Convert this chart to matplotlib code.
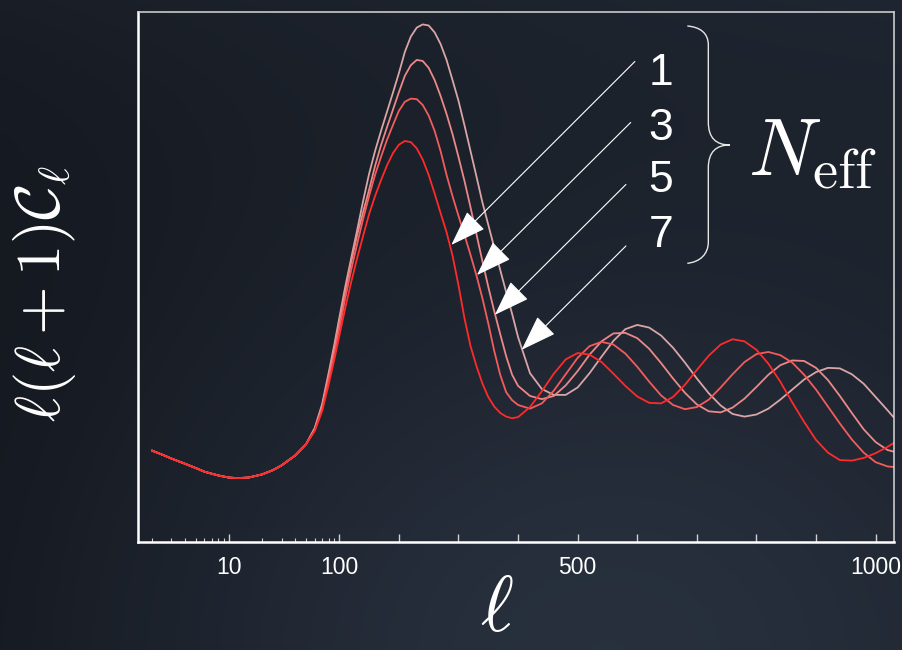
import numpy as np
import matplotlib.pyplot as plt
from matplotlib.path import Path
from matplotlib.patches import PathPatch

plt.rcParams['mathtext.fontset'] = 'cm'
plt.rcParams['font.family'] = ['Liberation Sans', 'DejaVu Sans']

# multipoles shared by all four spectra
ell = [2, 2.5, 3, 4, 5, 6, 8, 10, 12, 15, 20, 25, 30, 40, 50,
       60, 70, 80, 90,
       100, 110, 120, 130, 140, 150, 160, 170, 180, 190,
       200, 210, 220, 230, 240, 250, 260, 270, 280, 290,
       300, 310, 320, 330, 340, 350, 360, 370, 380, 390,
       400, 420, 440, 460, 480, 500, 520, 540, 560, 580,
       600, 620, 640, 660, 680, 700, 720, 740, 760, 780,
       800, 820, 840, 860, 880, 900, 920, 940, 960, 980,
       1000, 1020, 1030]

# low-l plateau, same for every N_eff (arbitrary units)
dl_low = [17.2, 16.4, 15.7, 14.7, 13.9, 13.2, 12.5, 12.1, 12.0, 12.1,
          12.7, 13.5, 14.4, 16.3, 18.4]

dl_n1 = [20.9, 24.7, 29.6, 34.3,
         38.8, 44.1, 49.0, 53.5, 57.7, 61.8, 65.2, 68.2, 71.0, 73.3,
         74.9, 75.6, 75.4, 74.2, 72.1, 69.2, 65.7, 62.0, 58.4, 54.0,
         48.4, 42.2, 37.0, 33.2, 29.9, 27.3, 25.5, 24.3, 23.6, 23.3,
         23.5, 25.4, 28.4, 31.7, 34.4, 35.6, 35.3, 33.9, 31.7, 29.4,
         27.4, 26.2, 26.1, 27.3, 29.6, 32.4, 35.1, 37.2, 38.2, 37.8,
         36.2, 33.6, 30.2, 26.3, 22.6, 19.2, 16.8, 15.4, 15.3, 15.8,
         16.7, 17.9, 18.6]

dl_n3 = [21.1, 25.0, 30.5, 35.2,
         40.1, 46.0, 51.3, 56.2, 60.9, 65.2, 69.2, 72.6, 75.8, 78.6,
         81.3, 83.0, 83.6, 83.5, 82.4, 80.4, 77.5, 73.7, 69.2, 65.2,
         61.5, 57.9, 54.2, 50.3, 46.0, 41.2, 36.0, 31.5, 28.2, 26.7,
         25.8, 25.1, 26.1, 28.5, 31.6, 34.7, 36.9, 37.7, 37.2, 35.5,
         33.0, 30.2, 27.6, 25.8, 25.0, 25.4, 26.8, 29.1, 31.6, 33.9,
         35.4, 35.8, 35.2, 33.8, 31.5, 28.7, 25.5, 22.3, 19.3, 16.8,
         15.0, 14.2, 14.1]

dl_n5 = [21.3, 25.6, 31.3, 36.4,
         41.5, 47.3, 52.8, 57.9, 62.2, 66.4, 70.9, 74.8, 78.2, 81.5,
         84.8, 87.9, 89.9, 90.9, 90.7, 89.4, 87.1, 84.1, 80.7, 76.9,
         72.6, 68.1, 63.2, 58.1, 53.0, 48.1, 43.5, 39.2, 35.0, 31.5,
         29.4, 27.5, 26.9, 27.5, 29.5, 32.2, 35.3, 37.8, 39.3, 39.4,
         38.4, 36.4, 33.7, 30.8, 28.1, 25.9, 24.6, 24.4, 25.3, 27.0,
         29.2, 31.5, 33.3, 34.2, 34.1, 32.8, 30.5, 27.5, 24.3, 21.2,
         18.8, 17.3, 17.0]

dl_n7 = [21.5, 26.0, 31.8, 37.1,
         42.2, 48.1, 53.5, 58.8, 64.3, 69.4, 73.7, 77.5, 81.1, 84.7,
         88.4, 92.4, 95.3, 97.0, 97.6, 97.4, 96.1, 93.9, 90.9, 87.1,
         83.2, 78.6, 73.8, 69.0, 64.1, 59.8, 55.5, 51.3, 47.1, 43.0,
         38.6, 31.8, 28.8, 27.7, 27.7, 29.1, 31.8, 34.9, 37.9, 40.1,
         40.9, 40.4, 38.9, 36.6, 33.8, 30.8, 28.0, 25.7, 24.1, 23.6,
         24.0, 25.1, 26.8, 28.7, 30.6, 32.0, 32.8, 32.7, 31.6, 29.8,
         27.3, 24.8, 23.5]

neff_labels = ['1', '3', '5', '7']
curves = [dl_n1, dl_n3, dl_n5, dl_n7]
colors = ['#ff2a2a', '#f45c5c', '#ec8888', '#d8a6a6']

# arrow tips sit on each curve, tails start next to the labels
arrow_tip = [(288, 56.0), (331, 50.3), (361, 42.8), (406, 36.2)]
arrow_tail = [(596, 90.6), (589, 79.1), (581, 67.4), (581, 55.8)]
label_pos = [(640, 86.2), (640, 75.8), (640, 66.0), (640, 55.6)]

major_ticks = [10, 100, 200, 300, 400, 500, 600, 700, 800, 900, 1000]
major_labels = ['10', '100', '', '', '', '500', '', '', '', '', '1000']
minor_ticks = [2, 3, 4, 5, 6, 7, 8, 9, 20, 30, 40, 50, 60, 70, 80, 90]

# log below l=100, linear above
K = 0.005402


def fwd(x):
    x = np.asarray(x, dtype=float)
    return np.where(x <= 100, np.log10(np.maximum(x, 1e-6)), 2 + (x - 100) * K)


def inv(u):
    u = np.asarray(u, dtype=float)
    return np.where(u <= 2, 10 ** np.minimum(u, 2), 100 + (u - 2) / K)


fig = plt.figure(figsize=(9.03, 6.5), dpi=100)

# dark slide background
bg = fig.add_axes([0, 0, 1, 1], zorder=-10)
yy, xx = np.mgrid[0:650, 0:903]
glow = np.exp(-(((xx - 560) / 520.0) ** 2 + ((yy - 660) / 430.0) ** 2))
f = 0.65 * glow + 0.2 * (xx / 903.0) + 0.25 * (1 - yy / 650.0) ** 3
f = np.clip(f, 0, 1)
dark = np.array([17, 20, 26]) / 255.0
light = np.array([46, 56, 72]) / 255.0
img = dark[None, None, :] + (light - dark)[None, None, :] * f[:, :, None]
bg.imshow(img, extent=[0, 1, 0, 1], aspect='auto', origin='upper')
bg.axis('off')

ax = fig.add_axes([0.15316, 0.16662, 0.83632, 0.81538])
ax.patch.set_alpha(0)
ax.set_xscale('function', functions=(fwd, inv))

for dl, c in zip(curves[::-1], colors[::-1]):
    ax.plot(ell, dl_low + dl, color=c, lw=1.3, solid_capstyle='round')

ax.set_xlim(1.507, 1030)
ax.set_ylim(0, 100)

ax.set_xticks(major_ticks)
ax.set_xticklabels(major_labels)
ax.set_xticks(minor_ticks, minor=True)
ax.xaxis.set_minor_formatter(plt.NullFormatter())
ax.set_yticks([])
ax.tick_params(axis='x', which='major', direction='in', length=6, width=1,
               color='#d0d0d0', labelcolor='white', labelsize=16.5, pad=10.5)
ax.tick_params(axis='x', which='minor', direction='in', length=3, width=0.8,
               color='#d0d0d0')

for side in ['left', 'bottom']:
    ax.spines[side].set_color('white')
    ax.spines[side].set_linewidth(1.8)
for side in ['top', 'right']:
    ax.spines[side].set_color('#d8d8d8')
    ax.spines[side].set_linewidth(1.1)

for tip, tail in zip(arrow_tip, arrow_tail):
    ax.annotate('', xy=tip, xytext=tail,
                arrowprops=dict(arrowstyle='-|>,head_length=1.15,head_width=0.4',
                                mutation_scale=20, color='white', lw=0.8,
                                shrinkA=0, shrinkB=0))

for lab, (lx, ly) in zip(neff_labels, label_pos):
    ax.text(lx, ly, lab, ha='center', va='baseline', fontsize=32, color='white')

# curly brace grouping the labels
verts = [(0.7270, 0.9730), (0.7438, 0.9711), (0.7548, 0.9598), (0.7548, 0.9372),
         (0.7548, 0.7919),
         (0.7548, 0.7617), (0.7650, 0.7485), (0.7835, 0.7485),
         (0.7650, 0.7485), (0.7548, 0.7353), (0.7548, 0.7051),
         (0.7548, 0.5655),
         (0.7548, 0.5428), (0.7438, 0.5277), (0.7270, 0.5253)]
codes = [Path.MOVETO, Path.CURVE4, Path.CURVE4, Path.CURVE4,
         Path.LINETO,
         Path.CURVE4, Path.CURVE4, Path.CURVE4,
         Path.CURVE4, Path.CURVE4, Path.CURVE4,
         Path.LINETO,
         Path.CURVE4, Path.CURVE4, Path.CURVE4]
ax.add_patch(PathPatch(Path(verts, codes), transform=ax.transAxes,
                       facecolor='none', edgecolor='#e6e6e6', lw=1.0))

ax.text(0.8073, 0.6919, r'$N_{\rm eff}$', transform=ax.transAxes,
        ha='left', va='baseline', fontsize=58, color='white')

fig.text(45 / 903, 1 - 293.5 / 650, r'$\ell(\ell+1)\mathcal{C}_\ell$',
         rotation=90, ha='center', va='center', fontsize=45, color='white')
fig.text(497 / 903, 2 / 650, r'$\ell$', ha='center', va='bottom',
         fontsize=57, color='white')

fig.savefig('out.png', dpi=100)
